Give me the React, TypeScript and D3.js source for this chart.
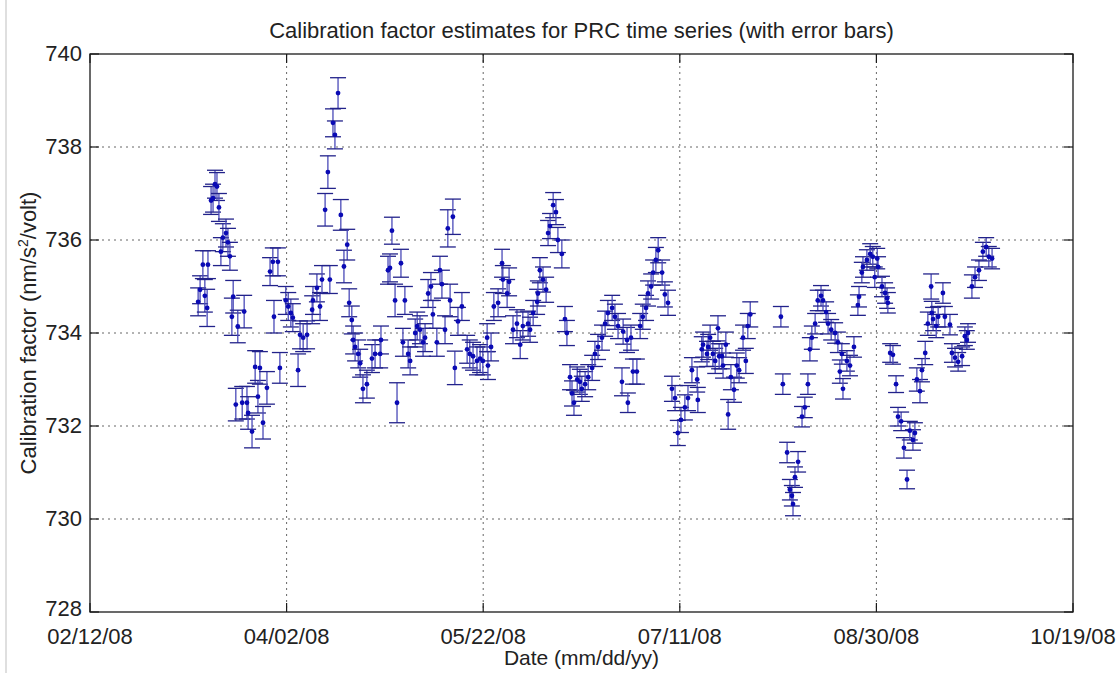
import React from 'react';
import * as d3 from 'd3';

// days since 02/12/08
const dayOffsets = [
  27.5, 28.0, 28.7, 29.2, 29.8, 30.0, 30.8, 31.3, 31.8, 32.3,
  32.8, 33.3, 33.8, 34.6, 35.1, 35.6, 36.1, 36.4, 37.1, 37.6,
  38.7, 39.2, 39.9, 40.2, 41.2, 42.0, 42.7, 43.2, 44.0, 45.0,
  45.8, 46.5, 46.8, 47.8, 48.3, 49.8, 50.4, 51.1, 51.6, 52.9,
  53.4, 54.2, 55.2, 56.5, 56.7, 57.7, 58.5, 59.0, 59.8, 60.5,
  61.0, 61.8, 62.3, 63.1, 63.8, 64.6, 65.4, 65.9, 66.6, 66.9,
  67.4, 68.2, 68.7, 69.4, 70.4, 71.7, 72.5, 73.8, 74.0, 75.8,
  76.3, 76.8, 77.6, 78.1, 79.1, 79.6, 80.1, 80.9, 81.4, 82.7,
  83.2, 83.9, 84.7, 85.2, 86.0, 86.7, 87.2, 88.2, 89.0, 89.5,
  90.3, 91.0, 91.6, 92.3, 92.8, 93.6, 94.6, 95.9, 96.6, 97.4,
  98.4, 99.2, 99.9, 101.0, 101.2, 102.0, 102.7, 103.8, 104.8, 105.0,
  106.1, 106.6, 107.6, 108.6, 109.4, 110.1, 111.4, 111.9, 112.7, 113.7,
  113.9, 114.4, 115.2, 116.0, 116.5, 117.0, 117.8, 118.5, 119.0, 120.0,
  120.8, 121.3, 122.1, 122.6, 123.1, 123.9, 124.6, 125.1, 125.9, 126.7,
  127.7, 128.4, 129.2, 130.2, 131.0, 131.7, 132.8, 133.5, 134.3, 135.3,
  135.6, 136.6, 136.8, 137.6, 138.1, 139.1, 139.9, 140.6, 141.4, 141.9,
  142.7, 143.2, 143.9, 144.5, 145.5, 146.2, 147.0, 148.0, 148.8, 149.5,
  150.3, 151.3, 152.1, 153.1, 154.4, 154.6, 155.6, 155.9, 156.9, 157.2,
  157.7, 158.4, 159.0, 159.7, 160.0, 160.7, 161.0, 161.7, 162.3, 163.0,
  163.8, 164.5, 165.1, 166.1, 166.8, 167.3, 167.9, 175.7, 176.2, 177.3,
  178.0, 178.5, 178.8, 179.3, 180.1, 181.1, 181.8, 182.6, 183.1, 183.6,
  184.4, 185.1, 185.9, 186.4, 187.2, 187.7, 188.5, 189.5, 190.2, 190.7,
  191.2, 191.5, 192.5, 193.3, 194.3, 195.3, 195.6, 196.3, 196.6, 197.6,
  198.4, 199.1, 199.6, 200.2, 200.4, 201.4, 202.2, 202.7, 202.9, 203.5,
  204.2, 205.0, 205.5, 206.3, 207.0, 207.8, 208.5, 209.3, 209.8, 210.3,
  211.1, 211.6, 212.4, 213.1, 213.9, 214.1, 214.4, 215.2, 215.7, 216.9,
  217.4, 218.7, 219.2, 220.0, 220.8, 221.8, 222.5, 223.0, 223.3, 224.3,
  225.1, 226.1, 227.1, 227.9, 228.6, 229.4,
];

// calibration factor, nm/s^2/volt
const calFactor = [
  734.67, 734.93, 735.47, 734.8, 734.54, 735.47, 736.85, 736.9, 737.2, 737.15,
  736.7, 735.75, 736.05, 736.15, 735.95, 735.65, 734.35, 734.78, 732.46, 734.14,
  732.5, 734.46, 732.5, 732.28, 731.88, 733.27, 732.63, 733.25, 732.07, 732.82,
  735.32, 735.53, 734.35, 735.53, 733.25, 734.7, 734.57, 734.43, 734.33, 733.2,
  733.96, 733.9, 733.96, 734.5, 734.7, 734.97, 734.57, 735.15, 736.65, 737.46,
  735.15, 738.52, 738.26, 739.16, 736.54, 735.43, 735.9, 734.65, 734.28, 733.85,
  733.7, 733.55, 733.35, 732.8, 732.9, 733.45, 733.55, 733.55, 733.85, 735.35,
  735.4, 736.2, 734.7, 732.5, 735.5, 733.8, 734.7, 733.55, 733.4, 734.0,
  734.15, 734.07, 733.8, 733.9, 734.85, 735.0, 734.4, 733.8, 735.35, 735.05,
  734.07, 736.25, 734.7, 736.5, 733.25, 734.25, 734.57, 733.65, 733.55, 733.5,
  733.4, 733.45, 733.4, 733.9, 733.3, 733.7, 734.57, 734.65, 735.5, 735.15,
  734.85, 735.1, 734.07, 734.2, 733.75, 734.15, 734.2, 734.07, 734.43, 734.67,
  734.85, 735.35, 735.15, 734.93, 736.15, 736.3, 736.75, 736.6, 736.0, 735.7,
  734.3, 734.0, 733.05, 732.7, 732.5, 733.0, 732.95, 732.8, 732.9, 733.05,
  733.25, 733.55, 733.7, 733.9, 734.2, 734.43, 734.54, 734.35, 734.15, 732.95,
  734.03, 733.85, 732.5, 733.9, 733.17, 733.17, 734.15, 734.35, 734.54, 734.85,
  735.0, 735.3, 735.57, 735.78, 735.3, 734.83, 734.65, 732.8, 732.6, 731.85,
  732.13, 732.4, 732.6, 733.2, 733.0, 732.56, 733.65, 733.75, 733.55, 733.7,
  733.9, 733.55, 733.4, 734.1, 733.5, 733.5, 733.3, 733.75, 732.25, 733.05,
  732.78, 733.3, 733.2, 733.9, 733.4, 734.15, 734.4, 734.35, 732.9, 731.43,
  730.63, 730.5, 730.32, 730.9, 731.23, 732.2, 732.4, 732.9, 733.65, 733.9,
  734.2, 734.7, 734.8, 734.7, 734.45, 734.2, 734.07, 734.0, 733.8, 733.17,
  733.55, 732.8, 733.4, 733.3, 733.7, 734.6, 734.78, 735.3, 735.42, 735.57,
  735.7, 735.64, 735.2, 735.6, 735.42, 735.0, 734.86, 734.75, 734.65, 733.57,
  733.53, 732.9, 732.2, 732.1, 731.53, 730.85, 731.9, 731.7, 731.85, 733.0,
  732.75, 733.2, 733.57, 734.2, 735.0, 734.43, 734.3, 734.15, 734.35, 734.86,
  734.35, 734.18, 733.57, 733.47, 733.38, 733.5, 733.93, 733.85, 734.0, 735.0,
  735.2, 735.35, 735.75, 735.85, 735.64, 735.6,
];

// half length of each error bar
const errHalf = [
  0.3, 0.3, 0.3, 0.35, 0.4, 0.3, 0.3, 0.3, 0.3, 0.3,
  0.3, 0.3, 0.3, 0.3, 0.3, 0.3, 0.4, 0.35, 0.35, 0.35,
  0.35, 0.35, 0.35, 0.35, 0.35, 0.35, 0.35, 0.35, 0.35, 0.35,
  0.3, 0.3, 0.35, 0.3, 0.33, 0.3, 0.3, 0.3, 0.3, 0.35,
  0.3, 0.3, 0.3, 0.3, 0.3, 0.3, 0.3, 0.3, 0.35, 0.35,
  0.3, 0.3, 0.3, 0.33, 0.33, 0.35, 0.33, 0.3, 0.3, 0.3,
  0.3, 0.3, 0.3, 0.3, 0.3, 0.3, 0.3, 0.3, 0.3, 0.3,
  0.3, 0.29, 0.35, 0.43, 0.3, 0.3, 0.3, 0.3, 0.3, 0.3,
  0.3, 0.3, 0.3, 0.3, 0.3, 0.3, 0.3, 0.3, 0.3, 0.3,
  0.3, 0.4, 0.35, 0.38, 0.36, 0.3, 0.3, 0.3, 0.3, 0.3,
  0.3, 0.3, 0.3, 0.3, 0.3, 0.3, 0.3, 0.3, 0.3, 0.3,
  0.3, 0.3, 0.3, 0.3, 0.3, 0.3, 0.27, 0.27, 0.27, 0.27,
  0.27, 0.27, 0.27, 0.27, 0.27, 0.27, 0.27, 0.27, 0.27, 0.3,
  0.27, 0.27, 0.27, 0.27, 0.27, 0.27, 0.27, 0.27, 0.27, 0.27,
  0.27, 0.27, 0.27, 0.27, 0.27, 0.27, 0.27, 0.27, 0.27, 0.3,
  0.27, 0.27, 0.21, 0.27, 0.27, 0.27, 0.27, 0.27, 0.27, 0.27,
  0.27, 0.27, 0.27, 0.27, 0.27, 0.27, 0.27, 0.27, 0.27, 0.27,
  0.27, 0.27, 0.27, 0.27, 0.27, 0.27, 0.27, 0.27, 0.27, 0.27,
  0.27, 0.27, 0.27, 0.27, 0.27, 0.27, 0.27, 0.27, 0.32, 0.27,
  0.27, 0.27, 0.27, 0.27, 0.27, 0.27, 0.27, 0.22, 0.22, 0.22,
  0.22, 0.22, 0.25, 0.22, 0.22, 0.22, 0.22, 0.22, 0.25, 0.25,
  0.22, 0.22, 0.22, 0.22, 0.22, 0.22, 0.22, 0.22, 0.22, 0.25,
  0.22, 0.22, 0.22, 0.22, 0.22, 0.22, 0.22, 0.22, 0.22, 0.22,
  0.22, 0.22, 0.22, 0.22, 0.22, 0.22, 0.22, 0.22, 0.22, 0.2,
  0.2, 0.18, 0.2, 0.2, 0.22, 0.2, 0.2, 0.22, 0.22, 0.25,
  0.25, 0.25, 0.25, 0.25, 0.27, 0.25, 0.25, 0.25, 0.22, 0.22,
  0.22, 0.22, 0.2, 0.2, 0.2, 0.2, 0.2, 0.2, 0.2, 0.25,
  0.22, 0.22, 0.2, 0.2, 0.22, 0.22,
];

const xTickLabels = ['02/12/08', '04/02/08', '05/22/08', '07/11/08', '08/30/08', '10/19/08'];
const yTicks = [728, 730, 732, 734, 736, 738, 740];

const W = 1120;
const H = 673;
const left = 90;
const right = 1073;
const top = 54;
const bottom = 612;
const font = "'Liberation Sans', Arial, sans-serif";

const parse = d3.timeParse('%m/%d/%y');
const fmt = d3.timeFormat('%m/%d/%y');

export default function App() {
  const xTicks = xTickLabels.map((s) => parse(s) as Date);
  const x = d3.scaleTime().domain([xTicks[0], xTicks[xTicks.length - 1]]).range([left, right]);
  const y = d3.scaleLinear().domain([728, 740]).range([bottom, top]);

  const start = xTicks[0];
  const pts = dayOffsets.map((d, i) => ({
    date: d3.timeHour.offset(start, Math.round(d * 24)),
    v: calFactor[i],
    e: errHalf[i],
  }));

  const tickLen = 9;
  const cap = 8;

  return (
    <svg width={W} height={H} style={{ position: 'absolute', left: 0, top: 0, background: '#fff' }}>
      <line x1={6} x2={6} y1={0} y2={H} stroke="#d4d4d4" strokeWidth={1.5} />

      {/* grid */}
      <g stroke="#666" strokeWidth={1} strokeDasharray="2,4">
        {xTicks.slice(1, -1).map((t, i) => (
          <line key={'gx' + i} x1={x(t)} x2={x(t)} y1={top} y2={bottom} />
        ))}
        {yTicks.slice(1, -1).map((t) => (
          <line key={'gy' + t} x1={left} x2={right} y1={y(t)} y2={y(t)} />
        ))}
      </g>

      {/* error bars */}
      <g stroke="#22228a" strokeWidth={1.3}>
        {pts.map((p, i) => {
          const cx = x(p.date);
          const y1 = y(p.v + p.e);
          const y2 = y(p.v - p.e);
          return (
            <g key={i}>
              <line x1={cx} x2={cx} y1={y1} y2={y2} stroke="#4a4ab8" />
              <line x1={cx - cap} x2={cx + cap} y1={y1} y2={y1} />
              <line x1={cx - cap} x2={cx + cap} y1={y2} y2={y2} />
            </g>
          );
        })}
      </g>
      <g fill="#0a0ab4">
        {pts.map((p, i) => (
          <circle key={i} cx={x(p.date)} cy={y(p.v)} r={2.4} />
        ))}
      </g>

      {/* box and ticks */}
      <rect x={left} y={top} width={right - left} height={bottom - top} fill="none" stroke="#1a1a1a" strokeWidth={1.3} />
      <g stroke="#1a1a1a" strokeWidth={1.2}>
        {xTicks.map((t, i) => (
          <g key={'tx' + i}>
            <line x1={x(t)} x2={x(t)} y1={bottom} y2={bottom - tickLen} />
            <line x1={x(t)} x2={x(t)} y1={top} y2={top + tickLen} />
          </g>
        ))}
        {yTicks.map((t) => (
          <g key={'ty' + t}>
            <line x1={left} x2={left + tickLen} y1={y(t)} y2={y(t)} />
            <line x1={right} x2={right - tickLen} y1={y(t)} y2={y(t)} />
          </g>
        ))}
      </g>

      {/* tick labels */}
      <g fontFamily={font} fontSize={22} fill="#222">
        {xTicks.map((t, i) => (
          <text key={'lx' + i} x={x(t)} y={bottom + 32} textAnchor="middle">
            {fmt(t)}
          </text>
        ))}
        {yTicks.map((t) => (
          <text key={'ly' + t} x={left - 8} y={y(t) + (t === 728 ? 4 : 7)} textAnchor="end">
            {t}
          </text>
        ))}
      </g>

      <text x={(left + right) / 2} y={38} textAnchor="middle" fontFamily={font} fontSize={22} fill="#222">
        Calibration factor estimates for PRC time series (with error bars)
      </text>
      <text x={(left + right) / 2} y={665} textAnchor="middle" fontFamily={font} fontSize={21} fill="#222">
        Date (mm/dd/yy)
      </text>
      <text
        transform={`translate(36,${(top + bottom) / 2}) rotate(-90)`}
        textAnchor="middle"
        fontFamily={font}
        fontSize={22}
        fill="#222"
      >
        Calibration factor (nm/s<tspan dy={-8} fontSize={14}>2</tspan>
        <tspan dy={8}>/volt)</tspan>
      </text>
    </svg>
  );
}
